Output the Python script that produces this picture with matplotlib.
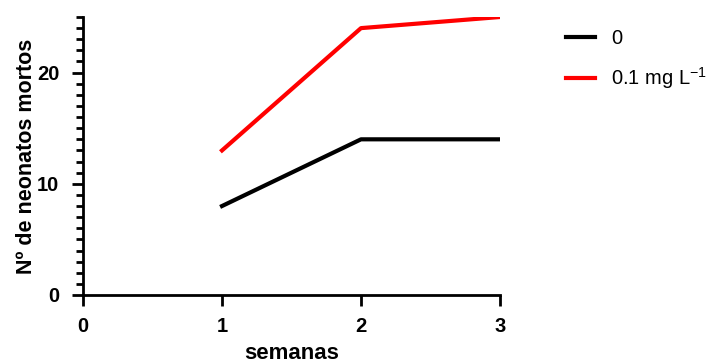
import matplotlib
matplotlib.use("Agg")
import matplotlib.pyplot as plt
from matplotlib.ticker import MultipleLocator

plt.rcParams["font.family"] = ["Liberation Sans", "DejaVu Sans"]
plt.rcParams["mathtext.fontset"] = "custom"
plt.rcParams["mathtext.rm"] = "Liberation Sans"

semanas = [1, 2, 3]
controle = [8, 14, 14]
tratado = [13, 24, 25]
series_labels = ["0", "0.1 mg L$^{-1}$"]

fig = plt.figure(figsize=(7.16, 3.63), dpi=100)
ax = fig.add_axes([83 / 716, 68 / 363, 417 / 716, 278 / 363])

ax.plot(semanas, controle, color="black", lw=3, label=series_labels[0])
ax.plot(semanas, tratado, color="#ff0000", lw=3, label=series_labels[1])

ax.set_xlim(0, 3)
ax.set_ylim(0, 25)
ax.set_xticks([0, 1, 2, 3])
ax.set_yticks([0, 10, 20])
ax.yaxis.set_minor_locator(MultipleLocator(1))

for side in ["top", "right"]:
    ax.spines[side].set_visible(False)
for side in ["left", "bottom"]:
    ax.spines[side].set_linewidth(2)
ax.tick_params(which="major", length=8, width=2, labelsize=14.5)
ax.tick_params(axis="x", which="major", pad=8)
ax.tick_params(axis="y", which="major", pad=9)
ax.tick_params(which="minor", length=5, width=2)
for lbl in ax.get_xticklabels() + ax.get_yticklabels():
    lbl.set_fontweight("bold")

ax.set_xlabel("semanas", fontsize=16, fontweight="bold", labelpad=5)
ax.set_ylabel("Nº de neonatos mortos", fontsize=15.5, fontweight="bold", labelpad=0)

fig.legend(loc="upper left", bbox_to_anchor=(548 / 716, 1 - 11 / 363),
           frameon=False, fontsize=14.5, handlelength=1.45, handletextpad=0.8,
           labelspacing=0.85)

fig.savefig("out.png", dpi=100)
